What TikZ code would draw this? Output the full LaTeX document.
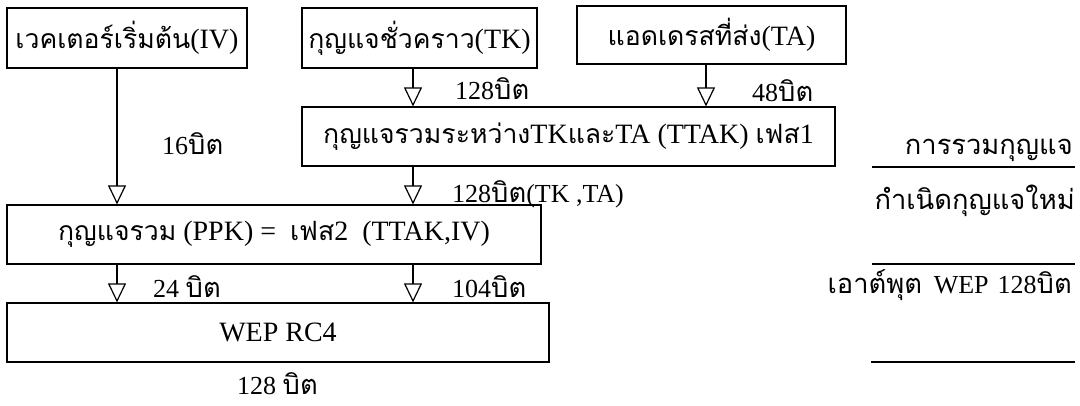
\documentclass[tikz,border=0pt]{standalone}
\usepackage{fontspec}
\setmainfont{Liberation Serif}
\newfontfamily\tf[Script=Thai,Scale=0.95]{Loma}
\newfontfamily\tfl[Script=Thai,Scale=1.05]{Loma}
\usetikzlibrary{arrows.meta}
\tikzset{
  box/.style={draw, line width=1.2pt, rectangle, inner sep=0pt, align=center, font=\fontsize{28}{32}\selectfont},
  arr/.style={line width=1.2pt, -{Triangle[open, length=19pt, width=18pt, line width=1.2pt]}},
  lbl/.style={anchor=base west, inner sep=0pt},
  rlbl/.style={anchor=base east, inner sep=0pt},
  rule/.style={line width=1.2pt},
}
\begin{document}
\begin{tikzpicture}[x=1pt, y=-1pt, font=\fontsize{26}{30}\selectfont]
\useasboundingbox (0,0) rectangle (1080,406);
% column coordinates
\coordinate (colA) at (117,0);
\coordinate (colB) at (413,0);
\coordinate (colC) at (706,0);
% boxes
\node[box, minimum width=240pt, minimum height=60pt] (iv) at (127,38) {{\tf เวคเตอร์เริ่มต้น}(IV)};
\node[box, minimum width=235pt, minimum height=60pt] (tk) at (419.5,38) {{\tf กุญแจชั่วคราว}(TK)};
\node[box, minimum width=269pt, minimum height=58pt] (ta) at (711.5,35) {{\tf แอดเดรสที่ส่ง}(TA)};
\node[box, minimum width=533pt, minimum height=59pt] (ttak) at (568.5,136.5) {{\tf กุญแจรวมระหว่าง}TK{\tf และ}TA (TTAK) {\tf เฟส}1};
\node[box, minimum width=534pt, minimum height=59pt] (ppk) at (274,234.5) {{\tf กุญแจรวม} (PPK) = \ {\tf เฟส}2 \ (TTAK,IV)};
\node[box, minimum width=542pt, minimum height=59pt] (wep) at (278,332.5) {WEP RC4};
% connectors
\draw[arr] (iv.south -| colA) -- (ppk.north -| colA);
\draw[arr] (tk.south -| colB) -- (ttak.north -| colB);
\draw[arr] (ta.south -| colC) -- (ttak.north -| colC);
\draw[arr] (ttak.south -| colB) -- (ppk.north -| colB);
\draw[arr] (ppk.south -| colA) -- (wep.north -| colA);
\draw[arr] (ppk.south -| colB) -- (wep.north -| colB);
% labels
\node[lbl] (l128a) at (455,100) {128{\tfl บิต}};
\node[lbl] (l48) at (752,102) {48{\tfl บิต}};
\node[lbl] (l16) at (162,155) {16{\tfl บิต}};
\node[lbl] (l128b) at (452,203) {128{\tfl บิต}(TK ,TA)};
\node[lbl] (l24) at (153,298) {24 {\tfl บิต}};
\node[lbl] (l104) at (452,298) {104{\tfl บิต}};
\node[lbl] (l128c) at (237,395) {128 {\tfl บิต}};
% right column
\node[rlbl] (r1) at (1073,155) {{\tfl การรวมกุญแจ}};
\node[rlbl] (r2) at (1075,210) {{\tfl กำเนิดกุญแจใหม่}};
\node[rlbl] (r3) at (1072,294) {{\tfl เอาต์พุต}\hspace{0.45em}WEP\hspace{0.35em}128{\tfl บิต}};
\coordinate (s1a) at (872,167); \coordinate (s1b) at (1075,167);
\coordinate (s2a) at (872,264); \coordinate (s2b) at (1075,264);
\coordinate (s3a) at (871,362); \coordinate (s3b) at (1075,362);
\draw[rule] (s1a) -- (s1b);
\draw[rule] (s2a) -- (s2b);
\draw[rule] (s3a) -- (s3b);
\end{tikzpicture}
\end{document}
